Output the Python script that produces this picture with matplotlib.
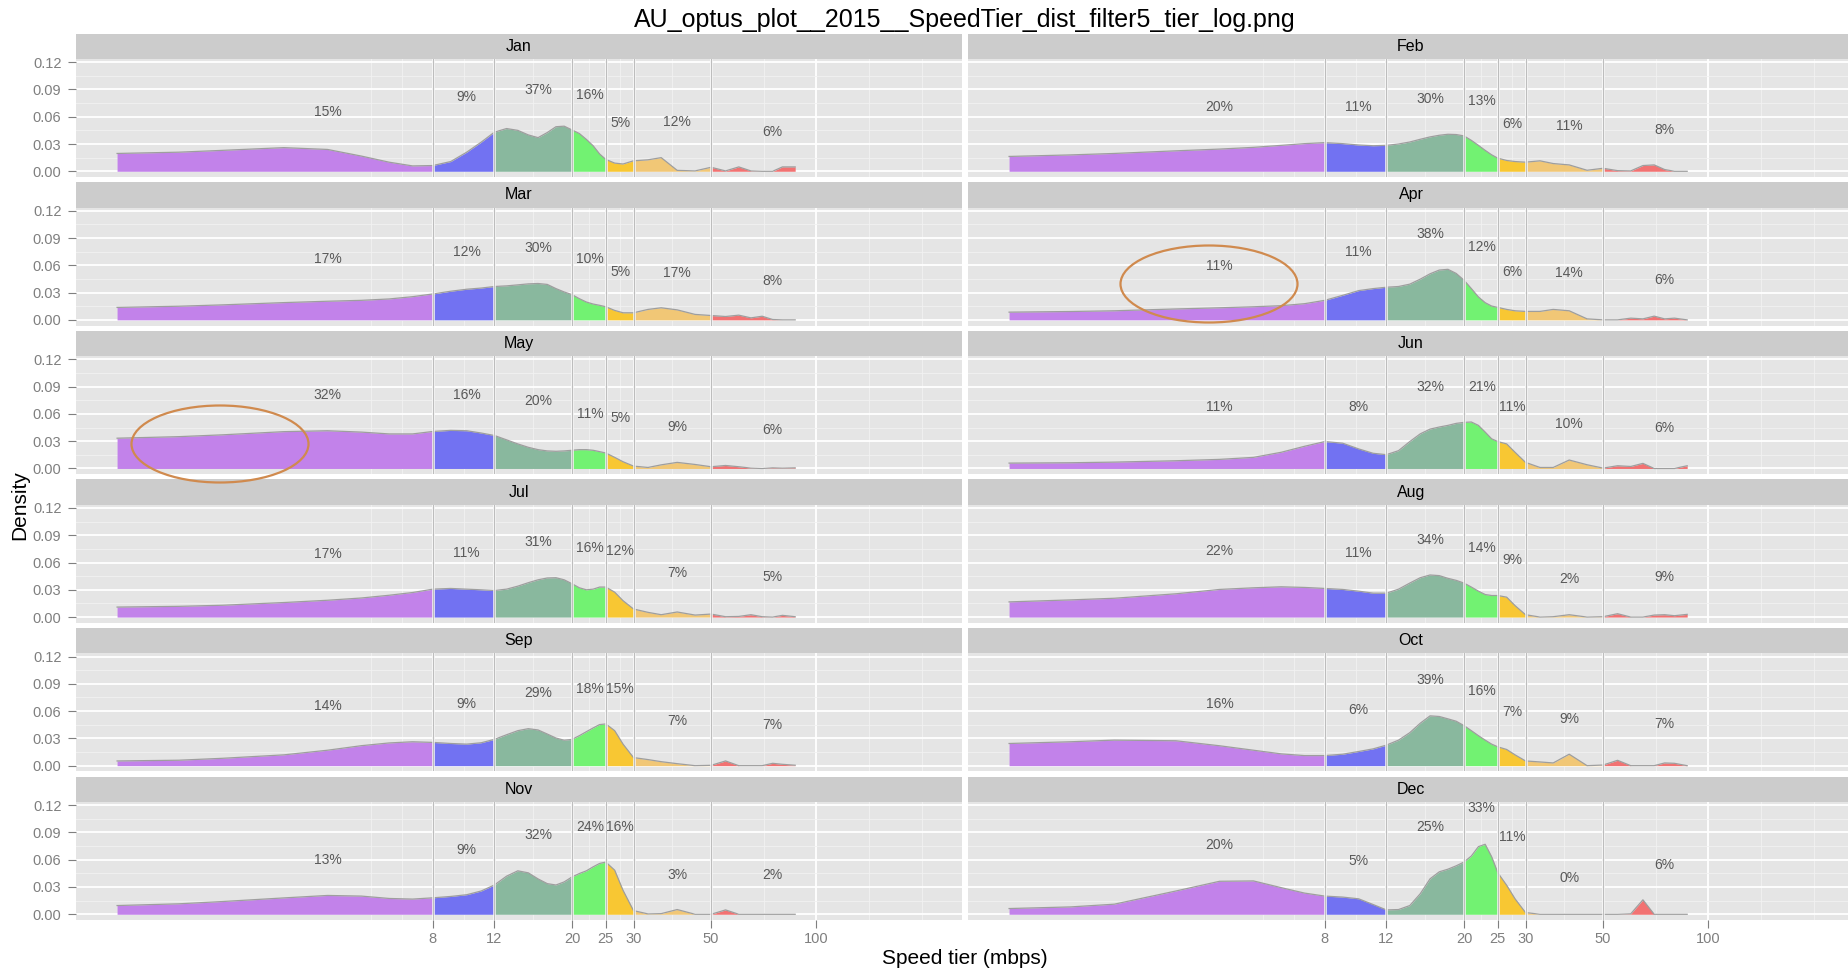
import numpy as np
import matplotlib.pyplot as plt
from matplotlib.ticker import FixedLocator, NullFormatter
from matplotlib.patches import Ellipse

plt.rcParams['font.family'] = ['Liberation Sans', 'DejaVu Sans']

# ---- data -------------------------------------------------------------
months = ["Jan", "Feb", "Mar", "Apr", "May", "Jun",
          "Jul", "Aug", "Sep", "Oct", "Nov", "Dec"]

# speed grid (mbps) the density curves were read at
speed = [1, 1.5, 2, 3, 4, 5, 6, 7, 8, 9, 10, 11, 12, 13, 14, 15, 16, 17, 18, 19,
         20, 21, 22, 23, 24, 25, 26.5, 28, 30, 33, 36, 40, 45, 50, 55, 60, 65,
         70, 75, 80, 87]

# density values, in units of 0.001
dens_jan = [19.6, 21, 23, 26, 24, 16.7, 10, 5.9, 6.3, 10.7, 21, 32, 43, 47, 45, 40, 37, 42.6, 49, 49.6,
            45.5, 41.5, 35, 28, 19, 13, 9, 8, 11.5, 12.6, 15, 1.0, 0.4, 4.4, 0.4, 4.8, 0.4,
            0, 0, 4.8, 4.8]
dens_feb = [16.3, 18, 19.6, 22.5, 24.4, 26.3, 28.5, 30.4, 31.5, 30.4, 28.9, 28.1, 28.5, 30, 32.2, 35.2, 37.8, 39.6, 40.7, 40.4,
            38.9, 34, 28.5, 23, 18.1, 14.4, 11.9, 10.7, 10, 11.5, 8.5, 7, 1.1, 3.3, 0.7, 0.4, 6.3,
            7, 1.9, 0, 0]
dens_mar = [13.7, 15, 16.5, 19, 20.5, 21.5, 23, 25.5, 28.5, 31.5, 33.7, 35, 36.7, 37.4, 38.5, 39.6, 40, 39, 34.4, 30.7,
            27.8, 23.3, 19.6, 17.4, 16, 14.4, 10.4, 7.8, 7.8, 11.5, 13.3, 11, 6, 4.8, 3.7, 5.2, 2.2,
            4, 0.4, 0, 0]
dens_apr = [8.5, 9.2, 10, 12, 13.3, 14.4, 15.6, 17.8, 21.5, 27, 32.2, 34.4, 35.9, 36.7, 39.3, 44.8, 50.7, 54.8, 55.6, 51.1,
            43.7, 34.4, 25.2, 18.9, 15.2, 13.7, 11.5, 10, 9.3, 9.3, 11.5, 10, 1.1, 0, 0, 1.9, 1.1,
            4.1, 1.1, 1.9, 0]
dens_may = [33.3, 35, 37, 40.5, 41.5, 40, 38, 38, 40.7, 41.9, 41.5, 39, 36.3, 31.5, 27, 23.3, 20.7, 19.3, 18.9, 19.3,
            20, 20.7, 20.7, 20, 18.5, 17, 12.2, 7.4, 2.6, 1.1, 4, 6.7, 4.4, 1.9, 3.3, 1.9, 0.4,
            0, 0.7, 0.4, 0.7]
dens_jun = [5.9, 6.3, 7, 8.5, 10, 12.2, 17.8, 24.4, 29.6, 27.8, 21.5, 16.7, 15.2, 19.6, 29.6, 38.1, 43.3, 45.6, 47.4, 49.6,
            50.7, 51.1, 47.4, 40, 32.6, 29.6, 27, 17.8, 6.7, 1.1, 1.1, 9.3, 4.1, 0.4, 3, 2.2, 5.6,
            0, 0, 0, 3]
dens_jul = [11, 11.8, 13, 16, 18.5, 21, 24, 27, 30.7, 31.5, 30.7, 30, 29.3, 30.7, 34, 37.8, 41, 43, 43.3, 41,
            36.7, 32.2, 30, 30.7, 33, 33, 27.4, 18, 8.9, 5.2, 2.6, 5.6, 2.2, 3.3, 0.4, 0.7, 2.6,
            0.4, 0, 1.9, 0.4]
dens_aug = [16.7, 18.9, 20.7, 25.6, 30.4, 32.2, 33.3, 32.6, 31.5, 30.4, 28.5, 26.3, 26.3, 30.7, 37.4, 43.3, 46.3, 45.6, 42.6, 40.4,
            37.4, 33, 28.5, 24.8, 23.7, 23.7, 21.9, 12.6, 2.6, 0, 0.4, 2.6, 0, 0.4, 3.7, 0, 0,
            2.2, 2.6, 1.5, 3]
dens_sep = [5.2, 6, 8.1, 11.9, 17, 22, 25, 26.3, 25.6, 24.4, 23.7, 25.2, 28.9, 34, 38.5, 40.7, 39.3, 34.8, 30.4, 28,
            28.9, 33, 37.4, 41.5, 45.2, 45.9, 38.5, 23.7, 8.9, 6.7, 4.4, 2.2, 0, 0.4, 5.2, 0, 0,
            0, 2.6, 1.5, 0.5]
dens_oct = [24.4, 26.3, 28.1, 27.4, 21.9, 17, 13, 11.1, 11.1, 12.6, 15.6, 18.5, 22.6, 28.1, 36.3, 46.7, 54.8, 54.1, 51.5, 48.9,
            44.1, 38.5, 33, 28.1, 23.7, 20.7, 17.8, 11.9, 5.2, 4.1, 3, 12.6, 0, 0.7, 5.9, 0, 0,
            0, 3, 2.6, 0]
dens_nov = [9.6, 11.5, 14, 18, 20.7, 20, 17.4, 16.7, 18.1, 19.6, 21.5, 25.6, 32.2, 41.9, 47.8, 45.6, 38.9, 33.7, 32.2, 35.6,
            41, 44.8, 47.8, 52.2, 55.9, 57.4, 48.5, 26.3, 4, 0.4, 0.7, 5.2, 0, 0, 4.8, 0, 0,
            0, 0, 0, 0]
dens_dec = [6.3, 8.1, 11.1, 25.6, 36.3, 36.7, 29.3, 23.3, 20, 18.9, 17, 10.7, 4.8, 5.2, 9.6, 22.6, 39, 46.7, 49.6, 53.3,
            57.4, 64.1, 74.4, 77, 63.3, 45.6, 31.9, 17, 1.9, 0, 0, 0, 0, 0, 0, 0.5, 15.9,
            0, 0, 0, 0]

# share of tests per tier (%)
pct_jan = [15, 9, 37, 16, 5, 12, 6]
pct_feb = [20, 11, 30, 13, 6, 11, 8]
pct_mar = [17, 12, 30, 10, 5, 17, 8]
pct_apr = [11, 11, 38, 12, 6, 14, 6]
pct_may = [32, 16, 20, 11, 5, 9, 6]
pct_jun = [11, 8, 32, 21, 11, 10, 6]
pct_jul = [17, 11, 31, 16, 12, 7, 5]
pct_aug = [22, 11, 34, 14, 9, 2, 9]
pct_sep = [14, 9, 29, 18, 15, 7, 7]
pct_oct = [16, 6, 39, 16, 7, 9, 7]
pct_nov = [13, 9, 32, 24, 16, 3, 2]
pct_dec = [20, 5, 25, 33, 11, 0, 6]

# height of each percentage label (units of 0.001)
lab_jan = [65.2, 81.5, 88.9, 84.4, 53, 53.7, 43.3]
lab_feb = [70.7, 70.4, 80, 77.4, 51.9, 50, 45.6]
lab_mar = [67, 74.8, 78.9, 67, 53, 51.9, 43.3]
lab_apr = [59.6, 74.8, 94.8, 80.7, 52.2, 51.5, 43.7]
lab_may = [80.7, 81.1, 74.4, 59.6, 55.6, 45.6, 42.6]
lab_jun = [67.8, 67.8, 89.3, 90, 67.4, 48.5, 44.8]
lab_jul = [69.3, 70.4, 82.2, 75.6, 72.6, 48.5, 43.7]
lab_aug = [72.2, 70, 85.2, 75.6, 63.3, 42.2, 43.7]
lab_sep = [65.2, 67.4, 79.6, 84.1, 84.1, 49.3, 44.8]
lab_oct = [67.8, 60.7, 94, 81.9, 59.3, 51.5, 45.6]
lab_nov = [59.6, 70.7, 87, 95.9, 95.6, 43.3, 43.3]
lab_dec = [76.3, 58.5, 96.3, 116.7, 84.8, 40.4, 53.7]

# tiers
tier_lo = [0, 8, 12, 20, 25, 30, 50]
tier_hi = [8, 12, 20, 25, 30, 50, 1000]
tier_mid = [4, 10, 16, 22.5, 27.5, 40, 75]
tier_cols = ['#C282EA', '#7272F2', '#89B89E', '#72F272', '#F8C733', '#F1C776', '#F27272']
tier_lines = [8, 12, 20, 25, 30, 50]

x_breaks = [8, 12, 20, 25, 30, 50, 100]
x_minor = [5.33, 6.53, 9.80, 15.49, 22.36, 27.39, 38.73, 70.71, 141.42, 200]
y_breaks = [0.0, 0.03, 0.06, 0.09, 0.12]
y_minor = [0.015, 0.045, 0.075, 0.105]

dens = [dens_jan, dens_feb, dens_mar, dens_apr, dens_may, dens_jun,
        dens_jul, dens_aug, dens_sep, dens_oct, dens_nov, dens_dec]
pcts = [pct_jan, pct_feb, pct_mar, pct_apr, pct_may, pct_jun,
        pct_jul, pct_aug, pct_sep, pct_oct, pct_nov, pct_dec]
labs = [lab_jan, lab_feb, lab_mar, lab_apr, lab_may, lab_jun,
        lab_jul, lab_aug, lab_sep, lab_oct, lab_nov, lab_dec]

# ---- layout (pixels) ---------------------------------------------------
W, H = 1849, 974
fig = plt.figure(figsize=(W / 100, H / 100), dpi=100)
fig.patch.set_facecolor('white')


def box(x0, y0, w, h):
    return [x0 / W, 1 - (y0 + h) / H, w / W, h / H]


x = np.array(speed)
for i, m in enumerate(months):
    r, c = divmod(i, 2)
    x0 = 76 + c * 892
    top = 33.7 + r * 148.6

    strip = fig.add_axes(box(x0, top, 886, 25.3))
    strip.set_facecolor('#CCCCCC')
    strip.set_xticks([])
    strip.set_yticks([])
    for s in strip.spines.values():
        s.set_visible(False)
    strip.text(0.5, 0.5, m, ha='center', va='center', fontsize=11.5)

    ax = fig.add_axes(box(x0, top + 25.3, 886, 118))
    ax.set_facecolor('#E5E5E5')
    for s in ax.spines.values():
        s.set_visible(False)
    ax.set_xscale('log')
    ax.set_xlim(0.763, 261)
    ax.set_ylim(-0.0063, 0.1235)
    ax.xaxis.set_major_locator(FixedLocator(x_breaks))
    ax.xaxis.set_minor_locator(FixedLocator(x_minor))
    ax.xaxis.set_minor_formatter(NullFormatter())
    ax.yaxis.set_major_locator(FixedLocator(y_breaks))
    ax.yaxis.set_minor_locator(FixedLocator(y_minor))
    ax.set_axisbelow(True)
    ax.grid(which='major', color='white', lw=1.3)
    ax.grid(which='minor', color='#F2F2F2', lw=0.6)
    ax.tick_params(which='minor', length=0)
    ax.tick_params(which='major', color='#7F7F7F', labelcolor='#7F7F7F',
                   length=5.5, width=0.8, labelsize=10.5)
    ax.tick_params(axis='y', pad=5)
    ax.tick_params(axis='x', pad=3)

    if r == 5:
        ax.set_xticklabels([str(b) for b in x_breaks])
    else:
        ax.tick_params(axis='x', length=0, labelbottom=False)
    if c == 0:
        ax.set_yticklabels(['0.00', '0.03', '0.06', '0.09', '0.12'])
    else:
        ax.tick_params(axis='y', length=0, labelleft=False)

    y = np.array(dens[i]) / 1000
    for lo, hi, col in zip(tier_lo, tier_hi, tier_cols):
        sel = (x >= lo) & (x <= hi)
        ax.fill_between(x[sel], 0, y[sel], color=col, lw=0, zorder=2)
    ax.plot(x, y, color='#9E9E9E', lw=0.9, zorder=3)

    for b in tier_lines:
        ax.axvline(b, color='white', lw=1.8, zorder=3.5)
        ax.axvline(b, color='#BDBDBD', lw=0.9, zorder=4)

    for lx, ly, p in zip(tier_mid, labs[i], pcts[i]):
        ax.text(lx, ly / 1000, f"{p}%", ha='center', va='center',
                fontsize=10, color='#595959', zorder=5)

# hand-drawn highlight circles
for cx, cy in [(1209, 284), (220, 444)]:
    fig.add_artist(Ellipse((cx / W, 1 - cy / H), 177 / W, 77 / H,
                           transform=fig.transFigure, fill=False,
                           edgecolor='#D08A4E', lw=1.6))

fig.text(965 / W, 1 - 20 / H, "AU_optus_plot__2015__SpeedTier_dist_filter5_tier_log.png",
         ha='center', va='center', fontsize=18)
fig.text(965 / W, 1 - 958 / H, "Speed tier (mbps)", ha='center', va='center', fontsize=15)
fig.text(20 / W, 1 - 505 / H, "Density", ha='center', va='center', rotation=90, fontsize=15)

fig.savefig('out.png', dpi=100)
